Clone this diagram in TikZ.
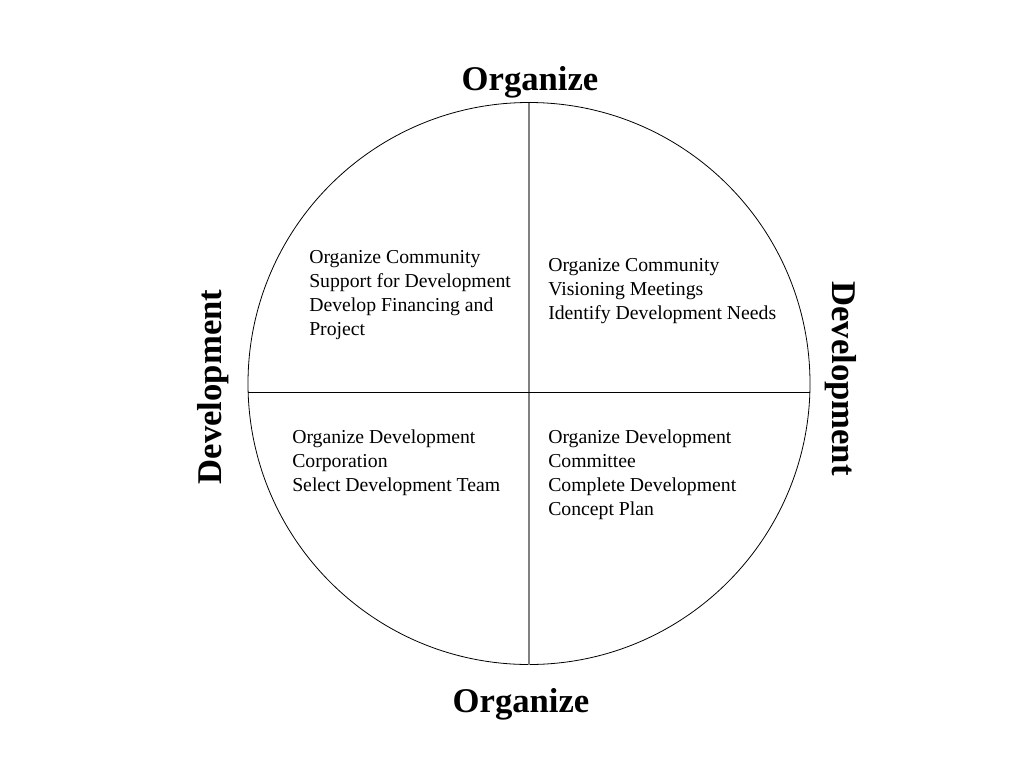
\documentclass[tikz,border=0pt]{standalone}
\usepackage{fontspec}
\setmainfont{Liberation Serif}
\usetikzlibrary{positioning}

\begin{document}
\begin{tikzpicture}[x=0.75pt,y=-0.75pt,
    quadtext/.style={inner sep=0pt, align=left, anchor=base west,
      font=\fontsize{14.8}{18}\selectfont},
    headtext/.style={inner sep=0pt, anchor=base,
      font=\bfseries\fontsize{26}{30}\selectfont}]
  \useasboundingbox (0,0) rectangle (1024,768);
  % wheel
  \node [draw, line width=0.6pt, circle, minimum size=421.5pt, inner sep=0pt] (wheel) at (529,383.5) {};
  \coordinate (vtop) at (529,102.5);
  \coordinate (vbot) at (529,664.5);
  \draw [gray, line width=1pt] (vtop) -- (vbot);
  \draw [line width=0.6pt] (wheel.center) ++(-281,8.8) coordinate (hleft) -- ++(562,0) coordinate (hright);
  % headings
  \node [headtext] (orgtop) at (530,90) {Organize};
  \node [headtext] (orgbot) at (521,712) {Organize};
  \node [headtext, rotate=90] (devleft) at (221,387) {Development};
  \node [headtext, rotate=-90] (devright) at (832,378.5) {Development};
  % quadrants (anchored on the last line)
  \node [quadtext] (ul) at (309,335) {Organize Community\\Support for Development\\Develop Financing and\\Project};
  \node [quadtext] (ur) at (548,319.5) {Organize Community\\Visioning Meetings\\Identify Development Needs};
  \node [quadtext] (ll) at (292,491) {Organize Development\\Corporation\\Select Development Team};
  \node [quadtext] (lr) at (548,515) {Organize Development\\Committee\\Complete Development\\Concept Plan};
\end{tikzpicture}
\end{document}
